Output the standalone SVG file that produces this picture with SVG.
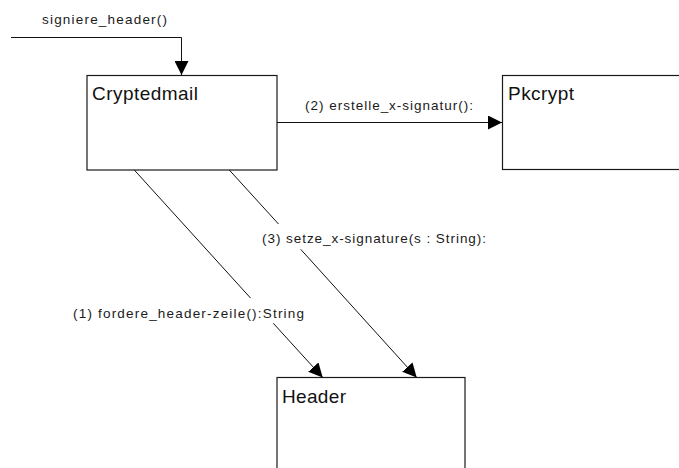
<svg xmlns="http://www.w3.org/2000/svg" width="679" height="468" viewBox="0 0 679 468">
  <style>
    .box { fill: #ffffff; stroke: #1a1a1a; stroke-width: 1.2; }
    .title { font-family: "Liberation Sans", Arial, sans-serif; font-size: 19px; fill: #111111; }
    .msg { font-family: "Liberation Sans", Arial, sans-serif; font-size: 13.5px; fill: #1a1a1a; }
    .link { fill: none; stroke: #111111; stroke-width: 1; }
  </style>
  <defs>
    <marker id="arrow" markerUnits="userSpaceOnUse" markerWidth="15" markerHeight="14" refX="14" refY="7" orient="auto">
      <path d="M0,0 L14,7 L0,14 Z" fill="#000000"/>
    </marker>
  </defs>
  <rect width="679" height="468" fill="#ffffff"/>

  <g id="node-cryptedmail">
    <rect class="box" x="87" y="75.5" width="190" height="94.5"/>
    <text class="title" x="92" y="100" textLength="106" lengthAdjust="spacing">Cryptedmail</text>
  </g>

  <g id="node-pkcrypt">
    <rect class="box" x="502.5" y="75.5" width="200" height="94"/>
    <text class="title" x="508" y="100" textLength="66" lengthAdjust="spacing">Pkcrypt</text>
  </g>

  <g id="node-header">
    <rect class="box" x="277" y="377.5" width="188" height="110"/>
    <text class="title" x="282" y="403" textLength="64" lengthAdjust="spacing">Header</text>
  </g>

  <g id="connectors">
    <!-- incoming call -->
    <path class="link" d="M11,37.5 H181.5 V75" marker-end="url(#arrow)"/>
    <text class="msg" x="42" y="24" textLength="125" lengthAdjust="spacing">signiere_header()</text>

    <!-- (2) Cryptedmail to Pkcrypt -->
    <path class="link" d="M277,122.5 H502" marker-end="url(#arrow)"/>
    <text class="msg" x="305" y="110" textLength="168" lengthAdjust="spacing">(2) erstelle_x-signatur():</text>

    <!-- (1) Cryptedmail to Header, interrupted by its label -->
    <path class="link" d="M134.3,170 L250.5,298"/>
    <path class="link" d="M273.3,323.3 L322.7,377.5" marker-end="url(#arrow)"/>
    <text class="msg" x="73" y="318" textLength="231" lengthAdjust="spacing">(1) fordere_header-zeile():String</text>

    <!-- (3) Cryptedmail to Header, interrupted by its label -->
    <path class="link" d="M229.3,170 L278.5,224"/>
    <path class="link" d="M300.7,249.3 L416.7,377.5" marker-end="url(#arrow)"/>
    <text class="msg" x="262" y="243" textLength="224" lengthAdjust="spacing">(3) setze_x-signature(s : String):</text>
  </g>
</svg>
